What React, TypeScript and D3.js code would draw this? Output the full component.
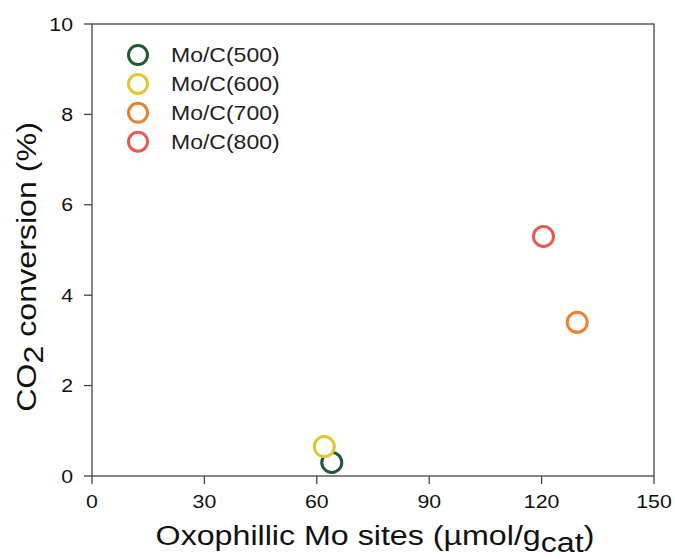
import * as d3 from "d3";

const WIDTH = 675;
const HEIGHT = 559;
const MARGIN = { top: 24, right: 21, bottom: 83, left: 92 };

// data
const samples = ["Mo/C(500)", "Mo/C(600)", "Mo/C(700)", "Mo/C(800)"];
const moSites = [64, 62, 129.5, 120.5];
const co2Conversion = [0.3, 0.65, 3.4, 5.3];
const colors = ["#1d5a33", "#e3c433", "#e9812f", "#e65b50"];

const xTicks = [0, 30, 60, 90, 120, 150];
const yTicks = [0, 2, 4, 6, 8, 10];

const FONT = "'Liberation Sans', Arial, sans-serif";
// the original font is a bit wider than Liberation Sans
const STRETCH = 1.15;

type STextProps = {
  x: number;
  y: number;
  rotate?: number;
  anchor?: "start" | "middle" | "end";
  size: number;
  dy?: string;
  fill?: string;
  children: React.ReactNode;
};

const SText = ({ x, y, rotate = 0, anchor = "start", size, dy, fill = "#111", children }: STextProps) => (
  <g transform={`translate(${x},${y}) rotate(${rotate}) scale(${STRETCH},1)`}>
    <text textAnchor={anchor} fontSize={size} dy={dy} fill={fill}>
      {children}
    </text>
  </g>
);

export default function App() {
  const boundsWidth = WIDTH - MARGIN.left - MARGIN.right;
  const boundsHeight = HEIGHT - MARGIN.top - MARGIN.bottom;

  const xScale = d3.scaleLinear().domain([0, 150]).range([0, boundsWidth]);
  const yScale = d3.scaleLinear().domain([0, 10]).range([boundsHeight, 0]);

  const axisColor = "#444";
  const tickLen = 8;

  return (
    <svg
      width={WIDTH}
      height={HEIGHT}
      style={{ position: "absolute", left: 0, top: 0, background: "#fff" }}
      fontFamily={FONT}
    >
      <g transform={`translate(${MARGIN.left},${MARGIN.top})`}>
        {/* frame */}
        <rect
          x={0}
          y={0}
          width={boundsWidth}
          height={boundsHeight}
          fill="none"
          stroke={axisColor}
          strokeWidth={1.3}
        />

        {/* x ticks */}
        {xTicks.map((t) => (
          <g key={t}>
            <line
              x1={xScale(t)}
              x2={xScale(t)}
              y1={boundsHeight}
              y2={boundsHeight + tickLen}
              stroke={axisColor}
              strokeWidth={1.3}
            />
            <SText x={xScale(t)} y={boundsHeight + 32} anchor="middle" size={18.5}>
              {t}
            </SText>
          </g>
        ))}

        {/* y ticks */}
        {yTicks.map((t) => (
          <g key={t}>
            <line
              x1={0}
              x2={-tickLen}
              y1={yScale(t)}
              y2={yScale(t)}
              stroke={axisColor}
              strokeWidth={1.3}
            />
            <SText x={-19} y={yScale(t)} dy="0.36em" anchor="end" size={18.5}>
              {t}
            </SText>
          </g>
        ))}

        {/* points */}
        {samples.map((s, i) => (
          <circle
            key={s}
            cx={xScale(moSites[i])}
            cy={yScale(co2Conversion[i])}
            r={10}
            fill="#fff"
            stroke={colors[i]}
            strokeWidth={3}
          />
        ))}

        {/* legend */}
        {samples.map((s, i) => (
          <g key={s}>
            <circle cx={46} cy={31 + i * 28.9} r={9.5} fill="#fff" stroke={colors[i]} strokeWidth={3} />
            <SText x={79} y={31 + i * 28.9} dy="0.36em" size={20} fill="#222">
              {s}
            </SText>
          </g>
        ))}
      </g>

      {/* axis titles */}
      <SText x={375} y={545} anchor="middle" size={28}>
        Oxophillic Mo sites (µmol/g
        <tspan dy={7}>cat</tspan>
        <tspan dy={-7}>)</tspan>
      </SText>
      <SText x={36} y={267} rotate={-90} anchor="middle" size={28}>
        CO<tspan dy={7}>2</tspan>
        <tspan dy={-7}> conversion (%)</tspan>
      </SText>
    </svg>
  );
}
